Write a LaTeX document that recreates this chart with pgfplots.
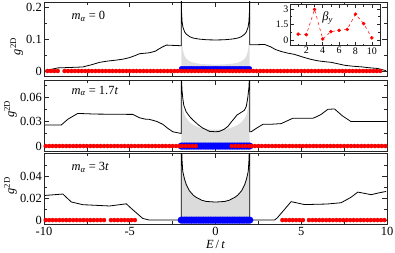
\documentclass[border=0pt]{standalone}
\usepackage{fontspec}
\setmainfont{Liberation Serif}
\usepackage{pgfplots}
\pgfplotsset{compat=1.18}
\definecolor{lightgr}{gray}{0.87}
\definecolor{midgr}{gray}{0.86}
\pgfplotsset{
  panel/.style={
    scale only axis, width=343bp, height=71bp,
    xmin=-10, xmax=10,
    scaled y ticks=false, scaled x ticks=false,
    axis line style={line width=0.8bp, black!85},
    tick style={black!85, line width=0.7bp},
    tick align=inside,
    xtick={-10,-5,0,5,10}, minor xtick={-7.5,-2.5,2.5,7.5},
    major tick length=5bp, minor tick length=3bp,
    font=\fontsize{12.5}{14}\selectfont,
    ylabel={\textit{g}\textsuperscript{2D}},
    ylabel style={inner sep=1bp},
    yticklabel style={inner sep=2bp},
  },
  reddots/.style={only marks, mark=*, mark size=2.1bp, color=red, mark options={draw=red!88!black, line width=0.15bp, fill=red}},
  bluedots/.style={only marks, mark=*, mark size=#1, color=blue, mark options={draw=blue, fill=blue}},
}
\begin{document}
\begin{tikzpicture}
\useasboundingbox (0,0) rectangle (395bp,-253bp);
% ---------------- panel 1 ----------------
\begin{axis}[panel, at={(44bp,-76bp)}, anchor=south west, height=74bp,
  ymin=-0.0156, ymax=0.2156,
  ytick={0,0.1,0.2}, yticklabels={0,0.1,0.2}, minor ytick={0.05,0.15},
  xticklabels={},
  ylabel style={at={(ticklabel cs:0.4)}}]
\addplot[fill=lightgr, draw=none] coordinates {(-1.99,0)(-1.99,0.2)(-1.98,0.142)(-1.95,0.09)(-1.9,0.064)(-1.8,0.046)(-1.7,0.038)(-1.5,0.030)(-1.3,0.026)(-1.0,0.023)(-0.5,0.0207)(0,0.02)(0.5,0.0207)(1.0,0.023)(1.3,0.026)(1.5,0.030)(1.7,0.038)(1.8,0.046)(1.9,0.064)(1.95,0.09)(1.98,0.142)(1.99,0.2)(1.99,0)} -- cycle;
\addplot[black, line width=0.8bp] coordinates {(-9.9,0.002)(-9.5,0.006)(-9.2,0.0097)(-8.5,0.011)(-7.74,0.0126)(-7.2,0.02)(-6.76,0.027)(-6.3,0.031)(-5.8,0.034)(-5.4,0.037)(-5.0,0.042)(-4.7,0.048)(-4.43,0.054)(-3.85,0.057)(-3.5,0.062)(-3.36,0.067)(-3.1,0.075)(-2.87,0.081)(-2.02,0.079)(-2.0,0.079)(-2.0,0.3)(-1.99,0.23)(-1.98,0.185)(-1.95,0.155)(-1.9,0.137)(-1.8,0.122)(-1.7,0.115)(-1.5,0.107)(-1.3,0.103)(-1.0,0.1)(-0.5,0.0975)(0,0.097)(0.5,0.0975)(1.0,0.1)(1.3,0.103)(1.5,0.107)(1.7,0.115)(1.8,0.122)(1.9,0.137)(1.95,0.155)(1.98,0.185)(1.99,0.23)(2.0,0.3)(2.0,0.082)(2.3,0.082)(2.86,0.083)(3.2,0.076)(3.5,0.067)(3.83,0.061)(4.2,0.056)(4.6,0.052)(5.19,0.042)(5.6,0.036)(5.95,0.032)(6.4,0.029)(6.75,0.027)(7.1,0.023)(7.52,0.018)(8.0,0.015)(8.5,0.013)(9.0,0.010)(9.45,0.0079)(9.95,0.001)};
\addplot[bluedots=2.0bp] coordinates {(-2.0,0.008)(-1.9,0.008)(-1.8,0.008)(-1.7,0.008)(-1.6,0.008)(-1.5,0.008)(-1.4,0.008)(-1.3,0.008)(-1.2,0.008)(-1.1,0.008)(-1.0,0.008)(-0.9,0.008)(-0.8,0.008)(-0.7,0.008)(-0.6,0.008)(-0.5,0.008)(-0.4,0.008)(-0.3,0.008)(-0.2,0.008)(-0.1,0.008)(0,0.008)(0.1,0.008)(0.2,0.008)(0.3,0.008)(0.4,0.008)(0.5,0.008)(0.6,0.008)(0.7,0.008)(0.8,0.008)(0.9,0.008)(1.0,0.008)(1.1,0.008)(1.2,0.008)(1.3,0.008)(1.4,0.008)(1.5,0.008)(1.6,0.008)(1.7,0.008)(1.8,0.008)(1.9,0.008)(2.0,0.008)};
\addplot[reddots] coordinates {(-9.8,0)(-9.6,0)(-9.4,0)(-9.2,0)(-8.8,0)(-8.6,0)(-8.4,0)(-8.2,0)(-8.0,0)(-7.8,0)(-7.6,0)(-7.4,0)(-7.2,0)(-7.0,0)(-6.8,0)(-6.6,0)(-6.4,0)(-6.2,0)(-6.0,0)(-5.8,0)(-5.6,0)(-5.4,0)(-5.2,0)(-5.0,0)(-4.8,0)(-4.6,0)(-4.4,0)(-4.2,0)(-4.0,0)(-3.8,0)(-3.6,0)(-3.4,0)(-3.2,0)(-3.0,0)(-2.8,0)(-2.6,0)(-2.4,0)(-2.2,0)(-2.0,0)(-1.8,0)(-1.6,0)(-1.4,0)(-1.2,0)(-1.0,0)(-0.8,0)(-0.6,0)(-0.4,0)(-0.2,0)(0,0)(0.2,0)(0.4,0)(0.6,0)(0.8,0)(1.0,0)(1.2,0)(1.4,0)(1.6,0)(1.8,0)(2.0,0)(2.2,0)(2.4,0)(2.6,0)(2.8,0)(3.0,0)(3.2,0)(3.4,0)(3.6,0)(3.8,0)(4.0,0)(4.2,0)(4.4,0)(4.6,0)(4.8,0)(5.0,0)(5.2,0)(5.4,0)(5.6,0)(5.8,0)(6.0,0)(6.2,0)(6.4,0)(6.6,0)(6.8,0)(7.0,0)(7.2,0)(7.4,0)(7.6,0)(7.8,0)(8.0,0)(8.2,0)(8.4,0)(8.6,0)(8.8,0)(9.0,0)(9.2,0)(9.4,0)(9.6,0)};
\node[anchor=west] at (rel axis cs:0.07,0.81) {\textit{m}\textsubscript{\textit{α}} = 0};
\end{axis}
% ---------------- inset ----------------
\begin{axis}[at={(290bp,-45.7bp)}, anchor=south west, scale only axis,
  width=90bp, height=41bp, xmin=0, xmax=11, ymin=-0.5, ymax=3.4,
  xtick={2,4,6,8,10}, xticklabels={2,4,6,8,10},
  ytick={0,1.5,3}, yticklabels={0,1.5,3},
  minor xtick={1,3,5,7,9}, minor ytick={0.75,2.25},
  tick align=inside, major tick length=3.5bp, minor tick length=2bp,
  axis line style={line width=0.8bp, black!85},
  tick style={black!85, line width=0.6bp},
  axis background/.style={fill=white},
  font=\fontsize{10}{11}\selectfont,
  xticklabel style={inner sep=1.5bp}, yticklabel style={inner sep=1.5bp}]
\addplot[red, dashed, line width=0.5bp, mark=*, mark size=1.5bp, mark options={solid, fill=red}] coordinates {(1,0.6)(2,0.55)(3,2.95)(4,0.14)(5,0.84)(6,0.96)(7,1.05)(8,2.5)(9,1.6)(10,0.24)};
\node at (axis cs:4.6,2.15) {\fontsize{12.5}{14}\selectfont\textit{β}\textsubscript{\textit{y}}};
\end{axis}
% ---------------- panel 2 ----------------
\begin{axis}[panel, at={(44bp,-151bp)}, anchor=south west,
  ymin=-0.0061, ymax=0.081,
  ytick={0,0.03,0.06}, yticklabels={0,0.03,0.06}, minor ytick={0.015,0.045,0.075},
  xticklabels={},
  ylabel style={at={(ticklabel cs:0.59)}}]
\addplot[fill=lightgr, draw=none] coordinates {(-1.99,0)(-1.99,0.1)(-1.98,0.08)(-1.95,0.058)(-1.9,0.046)(-1.8,0.038)(-1.7,0.034)(-1.5,0.029)(-1.3,0.026)(-1.0,0.023)(-0.5,0.0205)(0,0.020)(0.5,0.0205)(1.0,0.023)(1.3,0.026)(1.5,0.029)(1.7,0.034)(1.8,0.038)(1.9,0.046)(1.95,0.058)(1.98,0.08)(1.99,0.1)(1.99,0)} -- cycle;
\addplot[black, line width=0.8bp] coordinates {(-9.95,0.0257)(-9.0,0.0257)(-8.6,0.033)(-8.03,0.040)(-7.0,0.0392)(-6.0,0.039)(-4.82,0.0388)(-4.43,0.0347)(-4.1,0.033)(-3.85,0.0327)(-3.4,0.030)(-3.07,0.0266)(-2.8,0.022)(-2.49,0.0175)(-2.02,0.0155)(-2.0,0.0155)(-2.0,0.1)(-1.98,0.08)(-1.95,0.068)(-1.91,0.059)(-1.85,0.05)(-1.71,0.042)(-1.5,0.036)(-1.32,0.032)(-1.0,0.026)(-0.74,0.022)(-0.35,0.018)(0,0.0175)(0.23,0.018)(0.5,0.0205)(0.72,0.024)(0.9,0.029)(1.1,0.034)(1.25,0.038)(1.4,0.040)(1.55,0.042)(1.69,0.044)(1.8,0.049)(1.88,0.059)(1.95,0.072)(1.99,0.09)(2.0,0.1)(2.0,0.0175)(2.08,0.0175)(2.4,0.022)(2.76,0.0266)(3.3,0.0268)(3.83,0.0275)(4.5,0.034)(5.67,0.034)(5.9,0.036)(6.16,0.0388)(6.55,0.045)(6.94,0.0455)(7.4,0.037)(7.9,0.030)(9.95,0.030)};
\addplot[bluedots=3.3bp] coordinates {(-2.0,0)(-1.9,0)(-1.8,0)(-1.7,0)(-1.6,0)(-1.5,0)(-1.4,0)(-1.3,0)(-1.2,0)(-1.1,0)(-1.0,0)(-0.9,0)(-0.8,0)(-0.7,0)(-0.6,0)(-0.5,0)(-0.4,0)(-0.3,0)(-0.2,0)(-0.1,0)(0,0)(0.1,0)(0.2,0)(0.3,0)(0.4,0)(0.5,0)(0.6,0)(0.7,0)(0.8,0)(0.9,0)(1.0,0)(1.1,0)(1.2,0)(1.3,0)(1.4,0)(1.5,0)(1.6,0)(1.7,0)(1.8,0)(1.9,0)(2.0,0)};
\addplot[reddots] coordinates {(-9.9,0)(-9.7,0)(-9.5,0)(-9.3,0)(-9.1,0)(-8.9,0)(-8.7,0)(-8.5,0)(-8.3,0)(-8.1,0)(-7.9,0)(-7.7,0)(-7.5,0)(-7.3,0)(-7.1,0)(-6.9,0)(-6.7,0)(-6.5,0)(-6.3,0)(-6.1,0)(-5.9,0)(-5.7,0)(-5.5,0)(-5.3,0)(-5.1,0)(-4.9,0)(-4.7,0)(-4.5,0)(-4.3,0)(-4.1,0)(-3.9,0)(-3.7,0)(-3.5,0)(-3.3,0)(-3.1,0)(-2.9,0)(-2.7,0)(-2.5,0)(-2.3,0)(-2.1,0)(-1.95,0)(-1.75,0)(-1.55,0)(-1.35,0)(-1.15,0)(0.95,0)(1.15,0)(1.35,0)(1.55,0)(1.75,0)(1.95,0)(2.1,0)(2.3,0)(2.5,0)(2.7,0)(2.9,0)(3.1,0)(3.3,0)(3.5,0)(3.7,0)(3.9,0)(4.1,0)(4.3,0)(4.5,0)(4.7,0)(4.9,0)(5.1,0)(5.3,0)(5.5,0)(5.7,0)(5.9,0)(6.1,0)(6.3,0)(6.5,0)(6.7,0)(6.9,0)(7.1,0)(7.3,0)(7.5,0)(7.7,0)(7.9,0)(8.1,0)(8.3,0)(8.5,0)(8.7,0)(8.9,0)(9.1,0)(9.3,0)(9.5,0)(9.7,0)(9.9,0)};
\node[anchor=west] at (rel axis cs:0.07,0.845) {\textit{m}\textsubscript{\textit{α}} = 1.7\textit{t}};
\end{axis}
% ---------------- panel 3 ----------------
\begin{axis}[panel, at={(44bp,-224bp)}, anchor=south west,
  ymin=-0.0036, ymax=0.0618,
  ytick={0,0.02,0.04}, yticklabels={0,0.02,0.04}, minor ytick={0.01,0.03,0.05},
  xticklabels={-10,-5,0,5,10},
  xlabel={\textit{E}\,/\,\textit{t}},
  xlabel style={inner sep=1bp},
  ylabel style={at={(ticklabel cs:0.54)}}]
\addplot[fill=midgr, draw=none] coordinates {(-2.0,0)(-2.0,0.08)(-1.98,0.068)(-1.95,0.055)(-1.91,0.045)(-1.81,0.038)(-1.71,0.033)(-1.52,0.027)(-1.3,0.023)(-1.13,0.021)(-0.8,0.0183)(-0.54,0.0172)(0,0.0166)(0.54,0.0172)(0.8,0.0183)(1.13,0.021)(1.3,0.023)(1.52,0.027)(1.71,0.033)(1.81,0.038)(1.91,0.045)(1.95,0.055)(1.98,0.068)(2.0,0.08)(2.0,0)} -- cycle;
\addplot[black, line width=0.8bp] coordinates {(-9.95,0.0227)(-8.9,0.024)(-8.41,0.0167)(-7.74,0.0142)(-6.18,0.013)(-5.2,0.015)(-4.9,0.0106)(-4.24,0.0015)(-3.85,0)(-2.0,0)(-2.0,0.08)(-1.98,0.068)(-1.95,0.055)(-1.91,0.045)(-1.81,0.038)(-1.71,0.033)(-1.52,0.027)(-1.3,0.023)(-1.13,0.021)(-0.8,0.0183)(-0.54,0.0172)(0,0.0166)(0.54,0.0172)(0.8,0.0183)(1.13,0.021)(1.3,0.023)(1.52,0.027)(1.71,0.033)(1.81,0.038)(1.91,0.045)(1.95,0.055)(1.98,0.068)(2.0,0.08)(2.0,0)(3.44,0)(3.6,0.002)(4.41,0.017)(5.19,0.0143)(6.5,0.0148)(7.33,0.016)(7.9,0.021)(8.3,0.0258)(9.08,0.0234)(9.5,0.025)(9.95,0.0264)};
\addplot[bluedots=3.3bp] coordinates {(-2.0,0)(-1.9,0)(-1.8,0)(-1.7,0)(-1.6,0)(-1.5,0)(-1.4,0)(-1.3,0)(-1.2,0)(-1.1,0)(-1.0,0)(-0.9,0)(-0.8,0)(-0.7,0)(-0.6,0)(-0.5,0)(-0.4,0)(-0.3,0)(-0.2,0)(-0.1,0)(0,0)(0.1,0)(0.2,0)(0.3,0)(0.4,0)(0.5,0)(0.6,0)(0.7,0)(0.8,0)(0.9,0)(1.0,0)(1.1,0)(1.2,0)(1.3,0)(1.4,0)(1.5,0)(1.6,0)(1.7,0)(1.8,0)(1.9,0)(2.0,0)};
\addplot[reddots] coordinates {(-9.9,0)(-9.7,0)(-9.5,0)(-9.3,0)(-9.1,0)(-8.9,0)(-8.7,0)(-8.5,0)(-8.3,0)(-8.1,0)(-7.9,0)(-7.7,0)(-7.5,0)(-7.3,0)(-7.1,0)(-6.9,0)(-6.7,0)(-6.5,0)(-6.1,0)(-5.9,0)(-5.7,0)(-5.5,0)(-5.3,0)(-5.1,0)(-4.9,0)(-4.7,0)(3.9,0)(4.1,0)(4.3,0)(4.5,0)(4.7,0)(4.9,0)(5.1,0)(5.45,0)(5.65,0)(5.85,0)(6.05,0)(6.25,0)(6.45,0)(6.65,0)(6.85,0)(7.05,0)(7.25,0)(7.45,0)(7.65,0)(7.85,0)(8.05,0)(8.25,0)(8.45,0)(8.65,0)(8.85,0)(9.05,0)(9.25,0)(9.45,0)(9.65,0)(9.85,0)};
\node[anchor=west] at (rel axis cs:0.07,0.8) {\textit{m}\textsubscript{\textit{α}} = 3\textit{t}};
\end{axis}
\end{tikzpicture}
\end{document}
